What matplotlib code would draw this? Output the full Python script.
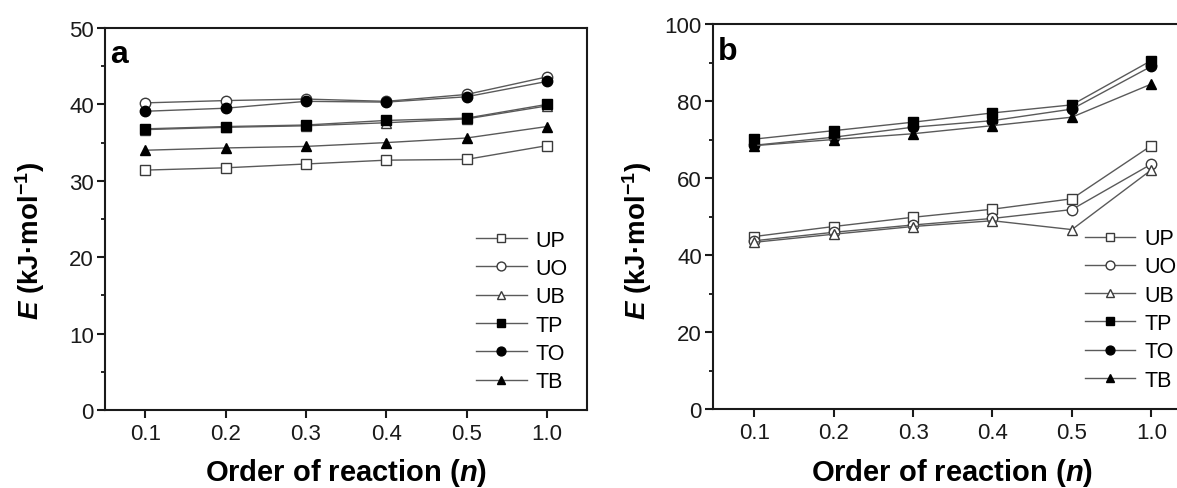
import numpy as np
import matplotlib
matplotlib.use('Agg')
import matplotlib.pyplot as plt
from matplotlib.ticker import MultipleLocator

plt.rcParams['font.family'] = ['Liberation Sans', 'DejaVu Sans']
plt.rcParams['mathtext.fontset'] = 'custom'
plt.rcParams['mathtext.rm'] = 'Liberation Sans:bold'
plt.rcParams['mathtext.it'] = 'Liberation Sans:italic:bold'
plt.rcParams['mathtext.bf'] = 'Liberation Sans:bold'
plt.rcParams['mathtext.bfit'] = 'Liberation Sans:bold:italic'

# categories on the x axis
orders = ['0.1', '0.2', '0.3', '0.4', '0.5', '1.0']
series_names = ['UP', 'UO', 'UB', 'TP', 'TO', 'TB']

# panel a values (kJ/mol)
a_UP = [31.4, 31.7, 32.2, 32.7, 32.8, 34.6]
a_UO = [40.2, 40.5, 40.7, 40.4, 41.3, 43.6]
a_UB = [36.7, 37.0, 37.2, 37.6, 38.1, 39.8]
a_TP = [36.8, 37.1, 37.3, 37.9, 38.2, 40.0]
a_TO = [39.1, 39.5, 40.4, 40.3, 41.0, 43.0]
a_TB = [34.0, 34.3, 34.5, 35.0, 35.6, 37.1]

# panel b values (kJ/mol)
b_UP = [44.8, 47.4, 49.8, 51.9, 54.6, 68.4]
b_UO = [43.7, 45.9, 47.8, 49.5, 51.8, 63.6]
b_UB = [43.3, 45.4, 47.4, 48.9, 46.6, 62.1]
b_TP = [70.1, 72.3, 74.5, 76.9, 79.0, 90.5]
b_TO = [68.5, 70.6, 73.2, 74.9, 77.9, 89.0]
b_TB = [68.4, 70.0, 71.5, 73.6, 75.8, 84.4]

styles = {
    'UP': dict(marker='s', mfc='white', mec='#3a3a3a'),
    'UO': dict(marker='o', mfc='white', mec='#3a3a3a'),
    'UB': dict(marker='^', mfc='white', mec='#3a3a3a'),
    'TP': dict(marker='s', mfc='black', mec='black'),
    'TO': dict(marker='o', mfc='black', mec='black'),
    'TB': dict(marker='^', mfc='black', mec='black'),
}

x = np.arange(1, len(orders) + 1)

fig = plt.figure(figsize=(11.77, 4.89), dpi=100)
ax1 = fig.add_axes([105 / 1177, 78 / 489, 482 / 1177, 382 / 489])
ax2 = fig.add_axes([713 / 1177, 79 / 489, 478 / 1177, 385 / 489])


def draw_panel(ax, data, ymax, ymajor, letter, xlim_left, leg_xy):
    for name, vals in zip(series_names, data):
        st = styles[name]
        ax.plot(x, vals, color='#5a5a5a', lw=1.0, marker=st['marker'],
                markersize=7.5, markerfacecolor=st['mfc'],
                markeredgecolor=st['mec'], markeredgewidth=1.0, label=name)
    ax.set_xlim(xlim_left, 6.5)
    ax.set_ylim(0, ymax)
    ax.set_xticks(x)
    ax.set_xticklabels(orders)
    ax.yaxis.set_major_locator(MultipleLocator(ymajor))
    ax.yaxis.set_minor_locator(MultipleLocator(ymajor / 2))
    ax.tick_params(axis='both', which='major', direction='out', length=6,
                   width=1.5, labelsize=16, colors='#1a1a1a')
    ax.tick_params(axis='y', which='major', pad=2)
    ax.tick_params(axis='y', which='minor', direction='out', length=3, width=1.2)
    ax.tick_params(axis='x', which='minor', bottom=False)
    for sp in ax.spines.values():
        sp.set_linewidth(1.5)
        sp.set_color('#1a1a1a')
    ax.set_xlabel(r'Order of reaction ($\mathbfit{n}$)', fontsize=21,
                  fontweight='bold', va='center')
    ax.set_ylabel(r'$\mathbfit{E}$ (kJ·mol$^{-1}$)', fontsize=20,
                  fontweight='bold', va='center')
    ax.text(0.011, 0.97, letter, transform=ax.transAxes, fontsize=23,
            fontweight='bold', va='top', ha='left')
    ax.legend(loc='upper left', bbox_to_anchor=leg_xy, frameon=False,
              fontsize=15.5, handlelength=2.35, handletextpad=0.4,
              labelspacing=0.34, borderpad=0, borderaxespad=0,
              markerscale=0.85)


draw_panel(ax1, [a_UP, a_UO, a_UB, a_TP, a_TO, a_TB], 50, 10, 'a', 0.5,
           (0.770, 0.472))
draw_panel(ax2, [b_UP, b_UO, b_UB, b_TP, b_TO, b_TB], 100, 20, 'b', 0.48,
           (0.778, 0.470))

ax1.xaxis.set_label_coords(0.5, -0.162)
ax1.yaxis.set_label_coords(-0.156, 0.444)
ax2.xaxis.set_label_coords(0.5, -0.164)
ax2.yaxis.set_label_coords(-0.158, 0.440)

fig.savefig('out.png', dpi=100)
